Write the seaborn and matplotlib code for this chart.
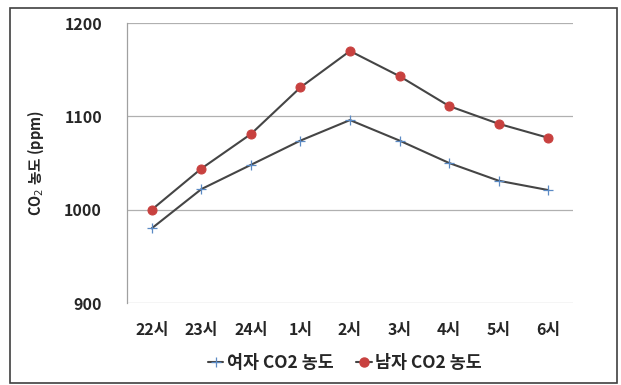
import matplotlib
matplotlib.use("Agg")
import matplotlib.pyplot as plt
import seaborn as sns
import pandas as pd
from matplotlib.patches import Rectangle
from matplotlib.lines import Line2D

hours = ["22시", "23시", "24시", "1시", "2시", "3시", "4시", "5시", "6시"]
female = [980, 1022, 1048, 1074, 1096, 1074, 1050, 1031, 1021]
male = [1000, 1044, 1081, 1131, 1170, 1143, 1111, 1092, 1077]
series_names = ["여자 CO2 농도", "남자 CO2 농도"]
yticks = [900, 1000, 1100, 1200]

sns.set_theme(style="white")
plt.rcParams['font.family'] = ['Noto Sans CJK KR', 'DejaVu Sans']

fig = plt.figure(figsize=(6.21, 3.85), dpi=100)
ax = fig.add_axes([127/621, 1-303/385, (573-127)/621, (303-23)/385])

df_f = pd.DataFrame({"hour": hours, "val": female})
df_m = pd.DataFrame({"hour": hours, "val": male})

line_col = "#454545"
sns.lineplot(data=df_f, x="hour", y="val", ax=ax, color=line_col, lw=1.5,
             marker="+", markersize=6.5, markeredgecolor="#5b8ac4", markeredgewidth=0.9)
sns.lineplot(data=df_m, x="hour", y="val", ax=ax, color=line_col, lw=1.5,
             marker="o", markersize=6.5, markerfacecolor="#c8413f", markeredgecolor="#c8413f")

ax.set_xlim(-0.5, len(hours) - 0.5)
ax.set_ylim(900, 1200)
ax.set_yticks(yticks)
ax.set_yticklabels([str(v) for v in yticks], fontsize=11.5, fontweight="bold")
ax.set_xticks(range(len(hours)))
ax.set_xticklabels(hours, fontsize=11.5, fontweight="bold")
ax.tick_params(axis="y", pad=18, length=0)
ax.tick_params(axis="x", pad=14, length=0)
ax.set_xlabel("")
ax.set_ylabel("CO$_2$ 농도 (ppm)", fontsize=10.5, fontweight="bold", labelpad=13)
ax.grid(axis="y", color="#b0b0b0", lw=0.9)
ax.set_axisbelow(True)
for s in ["top", "right", "bottom"]:
    ax.spines[s].set_visible(False)
ax.spines["left"].set_color("#a0a0a0")
ax.spines["left"].set_linewidth(0.9)

handles = [
    Line2D([], [], color=line_col, lw=1.5, marker="+", markersize=6.5,
           markeredgecolor="#5b8ac4", markeredgewidth=0.9),
    Line2D([], [], color=line_col, lw=1.5, marker="o", markersize=6.5,
           markerfacecolor="#c8413f", markeredgecolor="#c8413f"),
]
leg = fig.legend(handles, series_names, loc="center", bbox_to_anchor=(345/621, 1-363/385),
                 ncol=2, frameon=False, fontsize=12.5, handlelength=0.9, handletextpad=0.2,
                 columnspacing=1.3, markerfirst=True)
for t in leg.get_texts():
    t.set_fontweight("bold")

fig.patches.append(Rectangle((10/621, 1-383/385), 607/621, 375/385, transform=fig.transFigure,
                             fill=False, edgecolor="#404040", lw=1.2))

fig.savefig("out.png", dpi=100)
